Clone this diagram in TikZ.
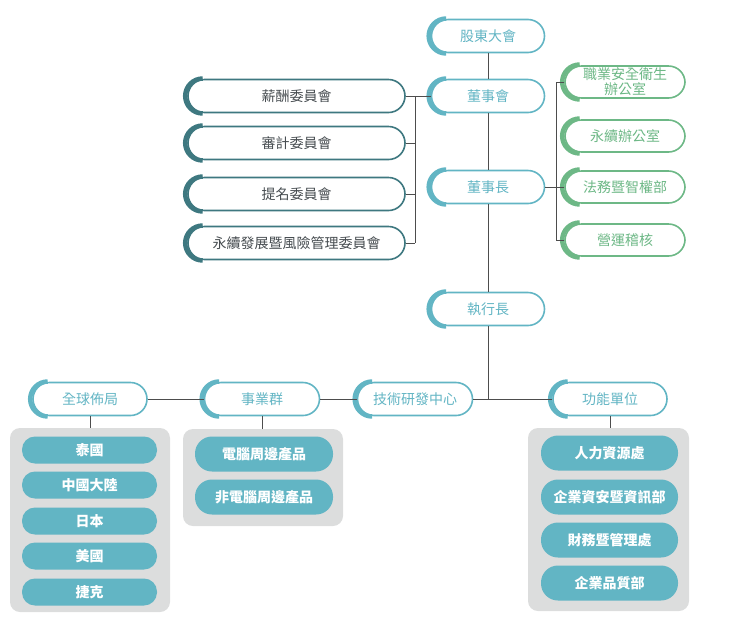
\documentclass[tikz,border=0pt]{standalone}
\usepackage{fontspec}
\setmainfont{Noto Sans CJK TC}
\usetikzlibrary{calc}

\definecolor{topteal}{HTML}{62B5C4}
\definecolor{darkteal}{HTML}{3E7880}
\definecolor{leafgreen}{HTML}{6DB886}
\definecolor{panelgray}{HTML}{DCDDDD}
\definecolor{linegray}{HTML}{4D4D4D}
\definecolor{textgray}{HTML}{464C50}

\tikzset{
  pill/.style={draw=#1, text=#1, line width=1.6pt, fill=white, rounded corners=16.5pt,
    minimum height=33pt, inner sep=0pt, font=\fontsize{14pt}{15pt}\selectfont},
  filledpill/.style={fill=topteal, text=white, rounded corners=13pt, inner sep=0pt,
    font=\fontsize{14pt}{15pt}\selectfont\bfseries},
  panel/.style={fill=panelgray, rounded corners=10pt, inner sep=0pt},
  link/.style={draw=linegray, line width=0.8pt}
}

% thick arc on the left end of an outlined pill
\newcommand\leftcap[2]{\draw[line width=4.5pt,#2] ([xshift=15.5pt,yshift=17.5pt]#1.west) arc[start angle=90,end angle=270,radius=17.5pt];}

\begin{document}
\begin{tikzpicture}[x=1pt,y=1pt]

\useasboundingbox (0,0) rectangle (739,-622);

% Main chain
\node[pill=topteal, minimum width=113pt] (agm) at (488,-36) {股東大會};
\node[pill=topteal, minimum width=113pt] (board) at (488,-96) {董事會};
\node[pill=topteal, minimum width=113pt] (chair) at (488,-187) {董事長};
\node[pill=topteal, minimum width=113pt] (ceo) at (488,-309) {執行長};

% Committees
\node[pill=darkteal, text=textgray, minimum width=217pt] (rem) at (296.5,-96) {薪酬委員會};
\node[pill=darkteal, text=textgray, minimum width=217pt] (aud) at (296.5,-143) {審計委員會};
\node[pill=darkteal, text=textgray, minimum width=217pt] (nom) at (296.5,-194) {提名委員會};
\node[pill=darkteal, text=textgray, minimum width=217pt] (sus) at (296.5,-243) {永續發展暨風險管理委員會};

% Offices under the chairman
\node[pill=leafgreen, minimum width=120pt, minimum height=32pt, align=center] (osh) at (625,-82) {職業安全衛生\\辦公室};
\node[pill=leafgreen, minimum width=120pt, minimum height=32pt] (esg) at (625,-136) {永續辦公室};
\node[pill=leafgreen, minimum width=120pt, minimum height=32pt] (legal) at (625,-187) {法務暨智權部};
\node[pill=leafgreen, minimum width=120pt, minimum height=32pt] (audit) at (625,-240) {營運稽核};

% Groups under the CEO
\node[pill=topteal, minimum width=114pt] (glob) at (90,-399) {全球佈局};
\node[pill=topteal, minimum width=115pt] (biz) at (262,-399) {事業群};
\node[pill=topteal, minimum width=115pt] (rd) at (415,-399) {技術研發中心};
\node[pill=topteal, minimum width=114pt] (func) at (610,-399) {功能單位};

% left end arcs
\foreach \n in {agm,board,chair,ceo,glob,biz,rd,func} {\leftcap{\n}{topteal}}
\foreach \n in {rem,aud,nom,sus} {\leftcap{\n}{darkteal}}
\foreach \n in {osh,esg,legal,audit} {\leftcap{\n}{leafgreen}}

% Gray panels
\node[panel, minimum width=160pt, minimum height=184pt] (panelL) at (90,-520) {};
\node[panel, minimum width=160pt, minimum height=97pt] (panelM) at (263,-477.5) {};
\node[panel, minimum width=161pt, minimum height=183pt] (panelR) at (608.5,-519.5) {};

% Regions
\node[filledpill, minimum width=135pt, minimum height=27pt] (th) at (89.5,-450) {泰國};
\node[filledpill, minimum width=135pt, minimum height=27pt] (cn) at (89.5,-485) {中國大陸};
\node[filledpill, minimum width=135pt, minimum height=27pt] (jp) at (89.5,-521) {日本};
\node[filledpill, minimum width=135pt, minimum height=27pt] (us) at (89.5,-556) {美國};
\node[filledpill, minimum width=135pt, minimum height=27pt] (cz) at (89.5,-592) {捷克};

% Business units
\node[filledpill, rounded corners=17pt, minimum width=138pt, minimum height=35pt] (pc) at (264,-454) {電腦周邊產品};
\node[filledpill, rounded corners=17pt, minimum width=138pt, minimum height=35pt] (npc) at (264,-497) {非電腦周邊產品};

% Functional units
\node[filledpill, rounded corners=17pt, minimum width=137pt, minimum height=35pt] (hr) at (609.5,-453) {人力資源處};
\node[filledpill, rounded corners=17pt, minimum width=137pt, minimum height=35pt] (it) at (609.5,-497) {企業資安暨資訊部};
\node[filledpill, rounded corners=17pt, minimum width=137pt, minimum height=35pt] (fin) at (609.5,-540) {財務暨管理處};
\node[filledpill, rounded corners=17pt, minimum width=137pt, minimum height=35pt] (qa) at (609.5,-583) {企業品質部};

% Connectors
\coordinate (cbus) at (415,0);
\coordinate (gbus) at (556,0);
\coordinate (hub) at (488,-399);

\draw[link] (agm) -- (board);
\draw[link] (board) -- (chair);
\draw[link] (chair) -- (ceo);
\draw[link] (ceo) -- (hub);

\draw[link] (rem.east) -- (board.west);
\draw[link] (rem.east -| cbus) -- (sus.east -| cbus);
\draw[link] (aud.east) -- (aud.east -| cbus);
\draw[link] (nom.east) -- (nom.east -| cbus);
\draw[link] (sus.east) -- (sus.east -| cbus);

\draw[link] (chair.east) -- (legal.west);
\draw[link] (osh.west) -- (osh.west -| gbus) -- (audit.west -| gbus) -- (audit.west);

\draw[link] (glob.east) -- (biz.west);
\draw[link] (biz.east) -- (rd.west);
\draw[link] (rd.east) -- (func.west);

\draw[link] (glob.south) -- (glob.south |- panelL.north);
\draw[link] (biz.south) -- (biz.south |- panelM.north);
\draw[link] (func.south) -- (func.south |- panelR.north);

\end{tikzpicture}
\end{document}
